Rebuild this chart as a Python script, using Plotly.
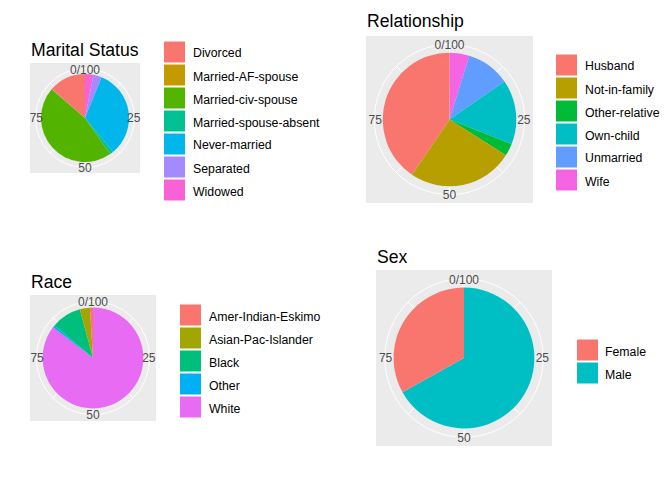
import numpy as np
import plotly.graph_objects as go

# ---------------- data ----------------
marital_categories = ["Divorced", "Married-AF-spouse", "Married-civ-spouse",
                      "Married-spouse-absent", "Never-married", "Separated", "Widowed"]
marital_values = [13.6, 0.1, 46.0, 1.3, 32.8, 3.1, 3.1]

relationship_categories = ["Husband", "Not-in-family", "Other-relative",
                           "Own-child", "Unmarried", "Wife"]
relationship_values = [40.5, 25.5, 3.0, 15.6, 10.6, 4.8]

race_categories = ["Amer-Indian-Eskimo", "Asian-Pac-Islander", "Black", "Other", "White"]
race_values = [1.0, 3.2, 9.6, 0.8, 85.4]

sex_categories = ["Female", "Male"]
sex_values = [33.1, 66.9]

tick_values = [0, 25, 50, 75]
tick_labels = ["0/100", "25", "50", "75"]

# ggplot2 hue palettes
pal7 = ["#F8766D", "#C49A00", "#53B400", "#00C094", "#00B6EB", "#A58AFF", "#FB61D7"]
pal6 = ["#F8766D", "#B79F00", "#00BA38", "#00BFC4", "#619CFF", "#F564E3"]
pal5 = ["#F8766D", "#A3A500", "#00BF7D", "#00B0F6", "#E76BF3"]
pal2 = ["#F8766D", "#00BFC4"]

# ---------------- layout helpers ----------------
W, H = 672, 480
OFF = 8  # page body margin compensation
FONT = "Liberation Sans, Arial, sans-serif"
PANEL_BG = "#EBEBEB"


def fx(x):
    return (x - OFF) / W


def fy(y):
    return 1 - (y - OFF) / H


panels = [
    dict(title="Marital Status", cats=marital_categories, vals=marital_values, cols=pal7,
         left=30, top=63, size=110, tx=30, ty=50, kx=164, ky=52, lx=192),
    dict(title="Relationship", cats=relationship_categories, vals=relationship_values, cols=pal6,
         left=366, top=36, size=167, tx=366, ty=21, kx=556, ky=65, lx=584),
    dict(title="Race", cats=race_categories, vals=race_values, cols=pal5,
         left=30, top=295, size=126, tx=30, ty=282, kx=180, ky=315, lx=208),
    dict(title="Sex", cats=sex_categories, vals=sex_values, cols=pal2,
         left=376, top=270, size=176, tx=376, ty=257, kx=577, ky=350, lx=604),
]

fig = go.Figure()
shapes = []
annotations = []
layout_polars = {}
KEY = 21
PITCH = 23
R_OUT = 1.125  # outer circle (0.45) relative to pie radius (0.4)

for i, p in enumerate(panels):
    main_id = "polar" if i == 0 else f"polar{i + 1}"
    lab_id = f"polar{i + 5}"
    vals = np.array(p["vals"], dtype=float)
    pct = vals / vals.sum() * 100
    # ggplot stacks so that the last level starts at 0 going clockwise
    order = list(range(len(pct)))[::-1]
    starts = np.concatenate([[0], np.cumsum(pct[order])[:-1]])
    widths = pct[order]
    centers = starts + widths / 2

    fig.add_trace(go.Barpolar(
        r=[1] * len(order),
        theta=(centers * 3.6).tolist(),
        width=(widths * 3.6).tolist(),
        marker=dict(color=[p["cols"][k] for k in order], line=dict(width=0)),
        text=[p["cats"][k] for k in order],
        hovertemplate="%{text}<extra></extra>",
        showlegend=False,
        subplot=main_id,
    ))
    # invisible trace carrying the angular tick labels
    fig.add_trace(go.Scatterpolar(
        r=[0], theta=[0], mode="markers", marker=dict(opacity=0),
        hoverinfo="skip", showlegend=False, subplot=lab_id,
    ))

    cx = p["left"] + p["size"] / 2
    cy = p["top"] + p["size"] / 2
    rc = 0.45 * p["size"]
    rd = rc - 8

    layout_polars[main_id] = dict(
        domain=dict(x=[fx(cx - rc), fx(cx + rc)], y=[fy(cy + rc), fy(cy - rc)]),
        bgcolor=PANEL_BG,
        hole=0,
        radialaxis=dict(visible=False, range=[0, R_OUT]),
        angularaxis=dict(
            rotation=90, direction="clockwise",
            tickvals=[k * 45 for k in range(8)],
            showticklabels=False, ticks="",
            showgrid=True, gridcolor="white", gridwidth=1,
            showline=True, linecolor="white", linewidth=1,
            layer="below traces",
        ),
    )
    layout_polars[lab_id] = dict(
        domain=dict(x=[fx(cx - rd), fx(cx + rd)], y=[fy(cy + rd), fy(cy - rd)]),
        bgcolor="rgba(0,0,0,0)",
        radialaxis=dict(visible=False, range=[0, 1]),
        angularaxis=dict(
            rotation=90, direction="clockwise",
            tickvals=[v * 3.6 for v in tick_values],
            ticktext=tick_labels,
            ticks="", showgrid=False, showline=False,
            tickfont=dict(family=FONT, size=12, color="#4D4D4D"),
        ),
    )

    # grey panel square
    shapes.append(dict(type="rect", xref="paper", yref="paper", layer="below",
                       x0=fx(p["left"]), x1=fx(p["left"] + p["size"]),
                       y0=fy(p["top"] + p["size"]), y1=fy(p["top"]),
                       fillcolor=PANEL_BG, line=dict(width=0)))
    # title
    annotations.append(dict(text=p["title"], xref="paper", yref="paper",
                            x=fx(p["tx"] - 1), y=fy(p["ty"]), xanchor="left", yanchor="middle",
                            showarrow=False, font=dict(family=FONT, size=17.6, color="black")))
    # legend
    for j, (cat, col) in enumerate(zip(p["cats"], p["cols"])):
        yc = p["ky"] + j * PITCH
        shapes.append(dict(type="rect", xref="paper", yref="paper",
                           x0=fx(p["kx"]), x1=fx(p["kx"] + KEY),
                           y0=fy(yc + KEY / 2), y1=fy(yc - KEY / 2),
                           fillcolor=col, line=dict(width=0)))
        annotations.append(dict(text=cat, xref="paper", yref="paper",
                                x=fx(p["lx"] - 1), y=fy(yc + 1.5), xanchor="left", yanchor="middle",
                                showarrow=False, font=dict(family=FONT, size=12.3, color="black")))

fig.update_layout(
    width=W, height=H,
    margin=dict(l=0, r=0, t=0, b=0),
    paper_bgcolor="white",
    plot_bgcolor="white",
    font=dict(family=FONT),
    shapes=shapes,
    annotations=annotations,
    showlegend=False,
    **layout_polars,
)

fig.write_html("out.html")
